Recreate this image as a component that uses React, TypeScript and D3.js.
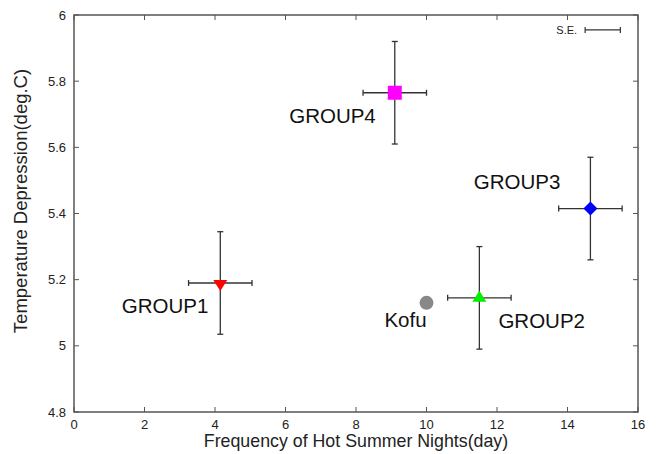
import React, { useEffect, useRef } from 'react';
import * as d3 from 'd3';

// data
const groupNames = ['GROUP1', 'GROUP2', 'GROUP3', 'GROUP4'];
const hotNights = [4.15, 11.5, 14.65, 9.1];
const tempDepression = [5.19, 5.145, 5.415, 5.765];
const seNights = [0.9, 0.9, 0.9, 0.9];
const seDepression = [0.155, 0.155, 0.155, 0.155];
const groupColors = ['#ff0000', '#00ee00', '#0000ff', '#ff00ff'];
const groupSymbols = ['triDown', 'triUp', 'diamond', 'square'];

const kofuNights = [10.0];
const kofuDepression = [5.13];

const xTicks = [0, 2, 4, 6, 8, 10, 12, 14, 16];
const yTicks = [4.8, 5, 5.2, 5.4, 5.6, 5.8, 6];

// label placement around each marker (pixels)
const labelOffsets = [
  { dx: -12, dy: 30, anchor: 'end' },
  { dx: 19, dy: 30, anchor: 'start' },
  { dx: -30, dy: -20, anchor: 'end' },
  { dx: -19, dy: 30, anchor: 'end' },
];

const FONT = '"Liberation Sans", Arial, Helvetica, sans-serif';

// marker outlines relative to the data point
const markerPath = (kind: string) => {
  const p = d3.path();
  if (kind === 'square') {
    p.rect(-7, -7, 14, 14);
  } else if (kind === 'diamond') {
    p.moveTo(0, -7);
    p.lineTo(7, 0);
    p.lineTo(0, 7);
    p.lineTo(-7, 0);
    p.closePath();
  } else if (kind === 'triDown') {
    p.moveTo(-7, -3);
    p.lineTo(7, -3);
    p.lineTo(0, 8);
    p.closePath();
  } else {
    p.moveTo(0, -7);
    p.lineTo(7, 4);
    p.lineTo(-7, 4);
    p.closePath();
  }
  return p.toString();
};

const ScatterChart = () => {
  const svgRef = useRef<SVGSVGElement>(null);

  useEffect(() => {
    const svg = d3.select(svgRef.current);
    svg.selectAll('*').remove();

    const width = 659;
    const height = 454;
    const margin = { top: 15, right: 21, bottom: 42, left: 74 };
    const x = d3
      .scaleLinear()
      .domain([0, 16])
      .range([margin.left, width - margin.right]);
    const y = d3
      .scaleLinear()
      .domain([4.8, 6])
      .range([height - margin.bottom, margin.top]);

    const axisColor = '#555';
    const tickLen = 5;
    const x0 = x(0);
    const x1 = x(16);
    const y0 = y(4.8);
    const y1 = y(6);

    // frame
    svg
      .append('rect')
      .attr('x', x0)
      .attr('y', y1)
      .attr('width', x1 - x0)
      .attr('height', y0 - y1)
      .attr('fill', 'none')
      .attr('stroke', axisColor)
      .attr('stroke-width', 1.5);

    // x ticks (bottom + mirrored top)
    const xt = svg.append('g');
    xTicks.forEach((t) => {
      xt.append('line')
        .attr('x1', x(t))
        .attr('x2', x(t))
        .attr('y1', y0)
        .attr('y2', y0 - tickLen)
        .attr('stroke', axisColor);
      xt.append('line')
        .attr('x1', x(t))
        .attr('x2', x(t))
        .attr('y1', y1)
        .attr('y2', y1 + tickLen)
        .attr('stroke', axisColor);
      xt.append('text')
        .attr('x', x(t))
        .attr('y', y0 + 17)
        .attr('text-anchor', 'middle')
        .style('font-family', FONT)
        .style('font-size', '13px')
        .attr('fill', '#222')
        .text(t);
    });

    // y ticks (left + mirrored right)
    const yt = svg.append('g');
    yTicks.forEach((t) => {
      yt.append('line')
        .attr('x1', x0)
        .attr('x2', x0 + tickLen)
        .attr('y1', y(t))
        .attr('y2', y(t))
        .attr('stroke', axisColor);
      yt.append('line')
        .attr('x1', x1)
        .attr('x2', x1 - tickLen)
        .attr('y1', y(t))
        .attr('y2', y(t))
        .attr('stroke', axisColor);
      yt.append('text')
        .attr('x', x0 - 8)
        .attr('y', y(t))
        .attr('dy', '.35em')
        .attr('text-anchor', 'end')
        .style('font-family', FONT)
        .style('font-size', '13px')
        .attr('fill', '#222')
        .text(d3.format('~g')(t));
    });

    // axis titles
    svg
      .append('text')
      .attr('x', (x0 + x1) / 2)
      .attr('y', 447)
      .attr('text-anchor', 'middle')
      .style('font-family', FONT)
      .style('font-size', '17.8px')
      .attr('fill', '#222')
      .text('Frequency of Hot Summer Nights(day)');

    svg
      .append('text')
      .attr('transform', `translate(27,201) rotate(-90)`)
      .attr('text-anchor', 'middle')
      .style('font-family', FONT)
      .style('font-size', '18.5px')
      .attr('fill', '#222')
      .text('Temperature Depression(deg.C)');

    // error bars
    const cap = 3;
    const barColor = '#333';
    const eb = svg.append('g').attr('stroke', barColor).attr('stroke-width', 1.3);
    groupNames.forEach((_, i) => {
      const cx = x(hotNights[i]);
      const cy = y(tempDepression[i]);
      const xl = x(hotNights[i] - seNights[i]);
      const xr = x(hotNights[i] + seNights[i]);
      const yb = y(tempDepression[i] - seDepression[i]);
      const ytp = y(tempDepression[i] + seDepression[i]);
      eb.append('line').attr('x1', xl).attr('x2', xr).attr('y1', cy).attr('y2', cy);
      eb.append('line').attr('x1', xl).attr('x2', xl).attr('y1', cy - cap).attr('y2', cy + cap);
      eb.append('line').attr('x1', xr).attr('x2', xr).attr('y1', cy - cap).attr('y2', cy + cap);
      eb.append('line').attr('x1', cx).attr('x2', cx).attr('y1', ytp).attr('y2', yb);
      eb.append('line').attr('x1', cx - cap).attr('x2', cx + cap).attr('y1', ytp).attr('y2', ytp);
      eb.append('line').attr('x1', cx - cap).attr('x2', cx + cap).attr('y1', yb).attr('y2', yb);
    });

    // markers
    svg
      .selectAll('.marker')
      .data(groupNames)
      .enter()
      .append('path')
      .attr('class', 'marker')
      .attr('d', (_, i) => markerPath(groupSymbols[i]))
      .attr(
        'transform',
        (_, i) => `translate(${x(hotNights[i])},${y(tempDepression[i])})`,
      )
      .attr('fill', (_, i) => groupColors[i]);

    svg
      .selectAll('.kofu')
      .data(kofuNights)
      .enter()
      .append('circle')
      .attr('class', 'kofu')
      .attr('cx', (d) => x(d))
      .attr('cy', (_, i) => y(kofuDepression[i]))
      .attr('r', 7)
      .attr('fill', '#888');

    // labels
    groupNames.forEach((name, i) => {
      const o = labelOffsets[i];
      svg
        .append('text')
        .attr('x', x(hotNights[i]) + o.dx)
        .attr('y', y(tempDepression[i]) + o.dy)
        .attr('text-anchor', o.anchor)
        .style('font-family', FONT)
        .style('font-size', '20.5px')
        .attr('fill', '#111')
        .text(name);
    });
    svg
      .append('text')
      .attr('x', x(kofuNights[0]) - 21)
      .attr('y', y(kofuDepression[0]) + 24)
      .attr('text-anchor', 'middle')
      .style('font-family', FONT)
      .style('font-size', '20.5px')
      .attr('fill', '#111')
      .text('Kofu');

    // S.E. key
    const keyY = y(5.955);
    const keyL = x(14.5);
    const keyR = x(15.5);
    const key = svg.append('g').attr('stroke', barColor).attr('stroke-width', 1.2);
    key.append('line').attr('x1', keyL).attr('x2', keyR).attr('y1', keyY).attr('y2', keyY);
    key.append('line').attr('x1', keyL).attr('x2', keyL).attr('y1', keyY - 3).attr('y2', keyY + 3);
    key.append('line').attr('x1', keyR).attr('x2', keyR).attr('y1', keyY - 3).attr('y2', keyY + 3);
    svg
      .append('text')
      .attr('x', keyL - 8)
      .attr('y', keyY)
      .attr('dy', '.35em')
      .attr('text-anchor', 'end')
      .style('font-family', FONT)
      .style('font-size', '11px')
      .attr('fill', '#222')
      .text('S.E.');
  }, []);

  return (
    <svg
      ref={svgRef}
      width={659}
      height={454}
      style={{ position: 'absolute', left: 0, top: 0, background: '#fff' }}
    ></svg>
  );
};

export default function App() {
  return <ScatterChart />;
}
